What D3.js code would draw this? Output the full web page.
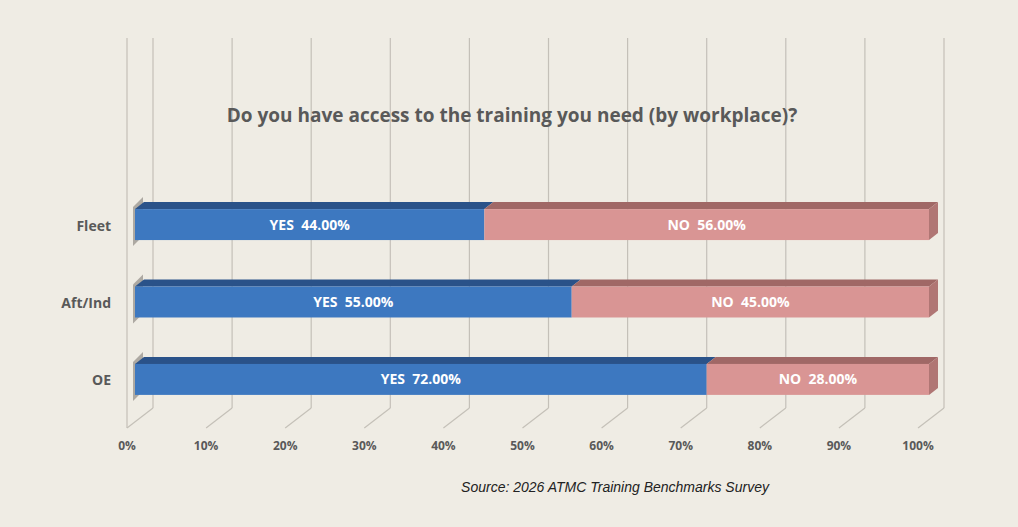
<!DOCTYPE html>
<html><head><meta charset="utf-8">
<script src="https://cdn.jsdelivr.net/npm/d3@7"></script>
<style>body{margin:0;background:#efece4}</style></head>
<body><div id="container"></div>
<script>
var categories = ["Fleet", "Aft/Ind", "OE"];
var yesValues = [44, 55, 72];
var noValues = [56, 45, 28];
var ticks = [0, 10, 20, 30, 40, 50, 60, 70, 80, 90, 100];

var svg = d3.select("#container").append("svg")
    .attr("width", 1018).attr("height", 527)
    .style("font-family", "'Open Sans', sans-serif");

svg.append("rect").attr("width", 1018).attr("height", 527).attr("fill", "#efece4");

// front plane scale and back-wall offset
var x = d3.scaleLinear().domain([0, 100]).range([135, 929]);
var xLab = d3.scaleLinear().domain([0, 100]).range([127, 918]);
var y = d3.scaleBand().domain(categories).range([182, 422]).paddingInner(0.6).paddingOuter(0.35);
var bx = 9, by = -7;

var grid = svg.append("g").attr("stroke", "#c4c0b8").attr("stroke-width", 1.2).attr("fill", "none");
ticks.forEach(function(t) {
    var bxp = xLab(t) + 26;
    grid.append("line").attr("x1", bxp).attr("x2", bxp).attr("y1", 38).attr("y2", 408);
    grid.append("line").attr("x1", bxp).attr("x2", bxp - 26).attr("y1", 408).attr("y2", 428);
});
grid.append("line").attr("x1", 127).attr("x2", 127).attr("y1", 38).attr("y2", 428);

svg.append("text").attr("x", 512).attr("y", 122).attr("text-anchor", "middle")
    .attr("font-size", 19).attr("font-weight", "bold").attr("fill", "#595959")
    .text("Do you have access to the training you need (by workplace)?");

// shadows on left wall
categories.forEach(function(c) {
    svg.append("path")
        .attr("d", "M" + (x(0) - 2) + "," + (y(c) + y.bandwidth() + 6) + "l10,-10l0," + (-y.bandwidth() - 8) + "l-10,10z")
        .attr("fill", "#6b6660").attr("opacity", 0.5);
});

var segs = [];
categories.forEach(function(c, i) {
    segs.push({cat: c, x0: 0, x1: yesValues[i], label: "YES  " + yesValues[i].toFixed(2) + "%", front: "#3d78c0", top: "#2a5289", side: "#2a5289"});
    segs.push({cat: c, x0: yesValues[i], x1: yesValues[i] + noValues[i], label: "NO  " + noValues[i].toFixed(2) + "%", front: "#d99594", top: "#a06866", side: "#b07674"});
});

var g = svg.selectAll("g.seg").data(segs).enter().append("g");
g.append("path").attr("fill", function(d) { return d.top; })
    .attr("d", function(d) {
        var yt = y(d.cat);
        return "M" + x(d.x0) + "," + yt + "l" + bx + "," + by + "L" + (x(d.x1) + bx) + "," + (yt + by) + "L" + x(d.x1) + "," + yt + "z";
    });
g.filter(function(d) { return d.x1 >= 100; }).append("path").attr("fill", function(d) { return d.side; })
    .attr("d", function(d) {
        var yt = y(d.cat);
        return "M" + x(d.x1) + "," + yt + "l" + bx + "," + by + "l0," + y.bandwidth() + "l" + (-bx) + "," + (-by) + "z";
    });
g.append("rect").attr("x", function(d) { return x(d.x0); }).attr("y", function(d) { return y(d.cat); })
    .attr("width", function(d) { return x(d.x1) - x(d.x0); }).attr("height", y.bandwidth())
    .attr("fill", function(d) { return d.front; });
g.append("text").attr("x", function(d) { return (x(d.x0) + x(d.x1)) / 2; })
    .attr("y", function(d) { return y(d.cat) + y.bandwidth() / 2 + 5; })
    .attr("text-anchor", "middle").attr("fill", "#fff").attr("font-weight", "bold").attr("font-size", 14)
    .attr("xml:space", "preserve")
    .text(function(d) { return d.label; });

svg.selectAll("text.cat").data(categories).enter().append("text")
    .attr("x", 111).attr("y", function(d) { return y(d) + y.bandwidth() / 2 + 6; })
    .attr("text-anchor", "end").attr("font-weight", "bold").attr("font-size", 14).attr("fill", "#595959")
    .text(function(d) { return d; });

svg.selectAll("text.tick").data(ticks).enter().append("text")
    .attr("x", function(d) { return xLab(d); }).attr("y", 450).attr("text-anchor", "middle")
    .attr("font-weight", "bold").attr("font-size", 12).attr("fill", "#595959")
    .text(function(d) { return d + "%"; });

svg.append("text").attr("x", 615).attr("y", 492).attr("text-anchor", "middle")
    .attr("font-style", "italic").attr("font-size", 14).attr("fill", "#222")
    .attr("font-family", "Arial, 'Liberation Sans', sans-serif")
    .text("Source: 2026 ATMC Training Benchmarks Survey");
</script></body></html>
